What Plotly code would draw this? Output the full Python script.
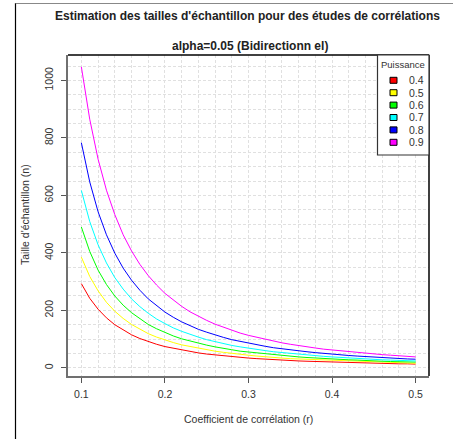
import plotly.graph_objects as go

# ---- data ----
r_values = [0.10, 0.11, 0.12, 0.13, 0.14, 0.15, 0.16, 0.17, 0.18, 0.19,
            0.20, 0.21, 0.22, 0.23, 0.24, 0.25, 0.26, 0.27, 0.28, 0.29,
            0.30, 0.31, 0.32, 0.33, 0.34, 0.35, 0.36, 0.37, 0.38, 0.39,
            0.40, 0.41, 0.42, 0.43, 0.44, 0.45, 0.46, 0.47, 0.48, 0.49, 0.50]

n_p04 = [293, 242, 204, 174, 150, 131, 115, 102, 91, 82,
         74, 68, 62, 57, 52, 48, 45, 41, 39, 36,
         34, 32, 30, 28, 27, 25, 24, 23, 22, 21,
         20, 19, 18, 17, 17, 16, 15, 15, 14, 14, 13]
n_p05 = [385, 318, 268, 228, 197, 172, 151, 134, 119, 107,
         97, 88, 80, 74, 68, 62, 58, 54, 50, 47,
         44, 41, 38, 36, 34, 32, 31, 29, 28, 26,
         25, 24, 23, 22, 21, 20, 19, 18, 18, 17, 16]
n_p06 = [490, 405, 340, 290, 250, 218, 192, 170, 151, 136,
         123, 111, 101, 93, 85, 79, 73, 67, 63, 58,
         55, 51, 48, 45, 43, 40, 38, 36, 34, 32,
         31, 29, 28, 27, 25, 24, 23, 22, 21, 21, 20]
n_p07 = [617, 509, 428, 365, 314, 274, 240, 213, 190, 170,
         154, 139, 127, 116, 107, 98, 91, 84, 78, 73,
         68, 64, 60, 56, 53, 50, 47, 44, 42, 40,
         38, 36, 34, 33, 31, 30, 28, 27, 26, 25, 24]
n_p08 = [783, 647, 543, 463, 399, 347, 305, 270, 240, 216,
         194, 176, 160, 147, 134, 124, 114, 106, 98, 92,
         85, 80, 75, 70, 66, 62, 59, 56, 53, 50,
         47, 45, 43, 41, 39, 37, 35, 34, 32, 31, 30]
n_p09 = [1047, 865, 726, 618, 533, 463, 407, 360, 321, 288,
         259, 235, 214, 195, 179, 165, 152, 141, 130, 121,
         113, 106, 99, 93, 87, 82, 77, 73, 69, 65,
         62, 59, 56, 53, 51, 48, 46, 44, 42, 40, 38]

power_labels = ["0.4", "0.5", "0.6", "0.7", "0.8", "0.9"]
series = [n_p04, n_p05, n_p06, n_p07, n_p08, n_p09]
colors = ["#ff0000", "#ffff00", "#00ff00", "#00ffff", "#0000ff", "#ff00ff"]

title_text = "Estimation des tailles d'échantillon pour des études de corrélations"
subtitle_text = "alpha=0.05 (Bidirectionn el)"
x_title = "Coefficient de corrélation (r)"
y_title = "Taille d'échantillon (n)"
legend_title = "Puissance"

# ---- layout geometry ----
W, H = 453, 439
L, R, T, B = 68, 24, 55, 63
pw = W - L - R
ph = H - T - B


def px_x(x):
    return (x - L) / pw


def px_y(y):
    return (H - B - y) / ph


FONT = "Liberation Sans, Arial, sans-serif"
TXT = "#333333"
GRID = "#e0e0e0"

fig = go.Figure()
for vals, lab, col in zip(series, power_labels, colors):
    fig.add_trace(go.Scatter(x=r_values, y=vals, mode="lines", name=lab,
                             line=dict(color=col, width=1), showlegend=False))

# R-style 4% padding of the data range
all_n = [v for s in series for v in s]
xmin, xmax = min(r_values), max(r_values)
ymin, ymax = min(all_n), max(all_n)
xpad = (xmax - xmin) * 0.04
ypad = (ymax - ymin) * 0.04

grid = dict(gridcolor=GRID, griddash="3px,2px", gridwidth=1)

fig.update_layout(
    width=W, height=H, autosize=False,
    margin=dict(l=L, r=R, t=T, b=B, pad=0),
    paper_bgcolor="white", plot_bgcolor="white",
    font=dict(family=FONT, color=TXT, size=10),
    xaxis=dict(range=[xmin - xpad, xmax + xpad], tickmode="linear", tick0=0.1, dtick=0.1,
               tickformat=".1f", showgrid=True, **grid,
               minor=dict(dtick=0.02, tick0=0.1, showgrid=True, **grid),
               showline=True, linecolor="#707070", linewidth=2, mirror=False,
               ticks="outside", ticklen=5, tickcolor="#555555", tickwidth=1,
               tickfont=dict(size=10.5, color=TXT), ticklabelstandoff=2,
               zeroline=False),
    yaxis=dict(range=[ymin - ypad, ymax + ypad], tickmode="linear", tick0=0, dtick=200,
               showgrid=True, **grid,
               minor=dict(dtick=50, tick0=0, showgrid=True, **grid),
               showline=True, linecolor="#707070", linewidth=2, mirror=False,
               ticks="outside", ticklen=5, tickcolor="#555555", tickwidth=1,
               tickangle=-90, tickfont=dict(size=10.5, color=TXT), ticklabelstandoff=4,
               zeroline=False),
)

shapes = []
# box top and right (black)
shapes.append(dict(type="line", xref="paper", yref="paper", x0=0, x1=1, y0=1, y1=1,
                   line=dict(color="black", width=1.5)))
shapes.append(dict(type="line", xref="paper", yref="paper", x0=1, x1=1, y0=0, y1=1,
                   line=dict(color="black", width=1.5)))
# outer frame of the image
shapes.append(dict(type="line", xref="paper", yref="paper", x0=px_x(15.5), x1=px_x(15.5),
                   y0=px_y(3), y1=px_y(440), line=dict(color="black", width=1.2)))
shapes.append(dict(type="line", xref="paper", yref="paper", x0=px_x(15.5), x1=px_x(454),
                   y0=px_y(3.5), y1=px_y(3.5), line=dict(color="#888888", width=1.2)))

# legend box
shapes.append(dict(type="rect", xref="paper", yref="paper", x0=px_x(377.5), x1=1,
                   y0=px_y(155), y1=1, fillcolor="white",
                   line=dict(color="#333333", width=1.2), layer="above"))
annotations = []
annotations.append(dict(text=legend_title, xref="paper", yref="paper", x=px_x(378.5),
                        y=px_y(64), xanchor="left", yanchor="middle", showarrow=False,
                        font=dict(size=9.5, color=TXT, family=FONT)))
for i, (lab, col) in enumerate(zip(power_labels, colors)):
    yc = 80.3 + i * 12.4
    shapes.append(dict(type="rect", xref="paper", yref="paper",
                       x0=px_x(390), x1=px_x(397), y0=px_y(yc + 3), y1=px_y(yc - 3),
                       fillcolor=col, line=dict(color="black", width=1), layer="above"))
    annotations.append(dict(text=lab, xref="paper", yref="paper", x=px_x(407),
                            y=px_y(yc), xanchor="left", yanchor="middle", showarrow=False,
                            font=dict(size=10.5, color=TXT, family=FONT)))

# titles
annotations.append(dict(text="<b>" + title_text + "</b>", xref="paper", yref="paper",
                        x=px_x(247.5), y=px_y(16), xanchor="center", yanchor="middle",
                        showarrow=False, font=dict(size=12, color="#222222", family=FONT)))
annotations.append(dict(text="<b>" + subtitle_text + "</b>", xref="paper", yref="paper",
                        x=px_x(250), y=px_y(46), xanchor="center", yanchor="middle",
                        showarrow=False, font=dict(size=12, color="#222222", family=FONT)))
annotations.append(dict(text=x_title, xref="paper", yref="paper", x=px_x(248), y=px_y(419),
                        xanchor="center", yanchor="middle", showarrow=False,
                        font=dict(size=10.5, color=TXT, family=FONT)))
annotations.append(dict(text=y_title, xref="paper", yref="paper", x=px_x(25),
                        y=px_y(215), xanchor="center", yanchor="middle", showarrow=False,
                        textangle=-90, font=dict(size=10.5, color=TXT, family=FONT)))

fig.update_layout(shapes=shapes, annotations=annotations)
fig.write_html("out.html", config={"displayModeBar": False},
               post_script="document.body.style.margin='0';document.body.style.padding='0';")
